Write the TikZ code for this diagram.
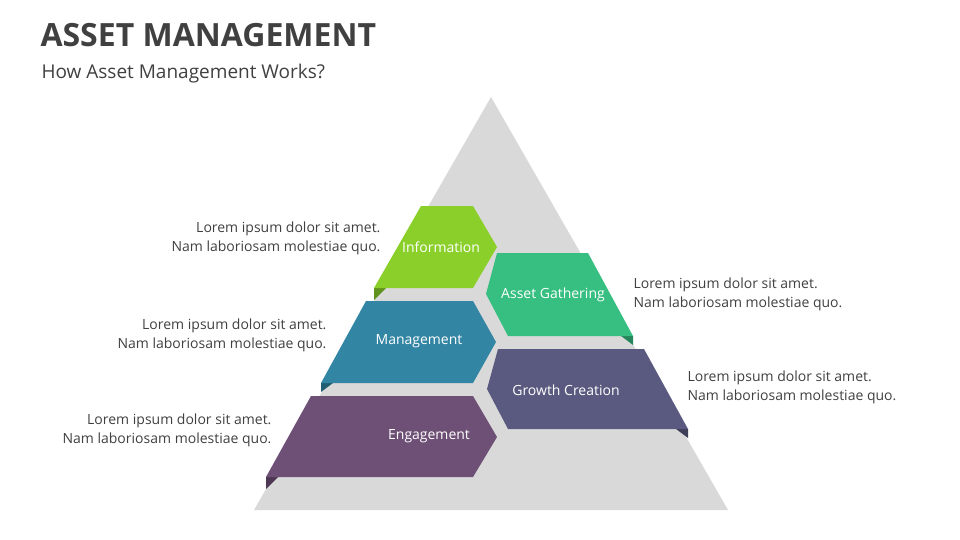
\documentclass[tikz,border=0pt]{standalone}
\usepackage{fontspec}
\setmainfont{Open Sans}
\usetikzlibrary{positioning}
\definecolor{pyrgray}{HTML}{D9D9D9}
\definecolor{infogreen}{HTML}{8BD02A}
\definecolor{assetgreen}{HTML}{36BF80}
\definecolor{mgmtblue}{HTML}{3285A3}
\definecolor{growthslate}{HTML}{5A5A80}
\definecolor{engpurple}{HTML}{6E4F75}
\definecolor{desctext}{HTML}{404040}

\begin{document}
\begin{tikzpicture}[x=1pt,y=-1pt,
    lbl/.style={text=white,font=\fontsize{14}{16}\selectfont},
    desc/.style={text=desctext,font=\fontsize{14}{19}\selectfont,align=#1},
    fold/.style={fill=#1!70!black}]
  \useasboundingbox (0,0) rectangle (960,540);

  % titles
  \node[anchor=west,text=desctext,font=\fontsize{32}{36}\selectfont\bfseries] (title) at (37,35) {ASSET MANAGEMENT};
  \node[anchor=west,text=desctext,font=\fontsize{19}{22}\selectfont] (subtitle) at (38,74) {How Asset Management Works?};

  % pyramid
  \fill[pyrgray] (491,97) -- (728,510) -- (254,510) -- cycle;

  % Information
  \fill[fold=infogreen] (374,288) -- (386,288) -- (374,300) -- cycle;
  \fill[infogreen] (421,206) -- (473,206) -- (497,247) -- (473,288) -- (374,288) -- cycle;
  \node[lbl] (info) at (441,247) {Information};

  % Asset Gathering
  \fill[fold=assetgreen] (633,336) -- (621,336) -- (633,345) -- cycle;
  \fill[assetgreen] (497,253) -- (588,253) -- (633,336) -- (508,336) -- (486,294) -- cycle;
  \node[lbl] (asset) at (553,295) {Asset Gathering};

  % Management
  \fill[fold=mgmtblue] (321,383) -- (333,383) -- (321,392) -- cycle;
  \fill[mgmtblue] (366,301) -- (473,301) -- (496,342) -- (473,383) -- (321,383) -- cycle;
  \node[lbl] (mgmt) at (419,341) {Management};

  % Growth Creation
  \fill[fold=growthslate] (688,429) -- (676,429) -- (688,438) -- cycle;
  \fill[growthslate] (498,349) -- (644,349) -- (688,429) -- (508,429) -- (487,389) -- cycle;
  \node[lbl] (growth) at (566,390) {Growth Creation};

  % Engagement
  \fill[fold=engpurple] (266,477) -- (278,477) -- (266,489) -- cycle;
  \fill[engpurple] (311,396) -- (473,396) -- (497,437) -- (473,477) -- (266,477) -- cycle;
  \node[lbl] (engage) at (429,436) {Engagement};

  % descriptions
  \node[desc=right,anchor=east] (infodesc) at (384,238) {Lorem ipsum dolor sit amet.\\Nam laboriosam molestiae quo.};
  \node[desc=right,anchor=east] (mgmtdesc) at (330,335) {Lorem ipsum dolor sit amet.\\Nam laboriosam molestiae quo.};
  \node[desc=right,anchor=east] (engagedesc) at (275,430) {Lorem ipsum dolor sit amet.\\Nam laboriosam molestiae quo.};
  \node[desc=left,anchor=west] (assetdesc) at (630,294) {Lorem ipsum dolor sit amet.\\Nam laboriosam molestiae quo.};
  \node[desc=left,anchor=west] (growthdesc) at (684,387) {Lorem ipsum dolor sit amet.\\Nam laboriosam molestiae quo.};
\end{tikzpicture}
\end{document}
